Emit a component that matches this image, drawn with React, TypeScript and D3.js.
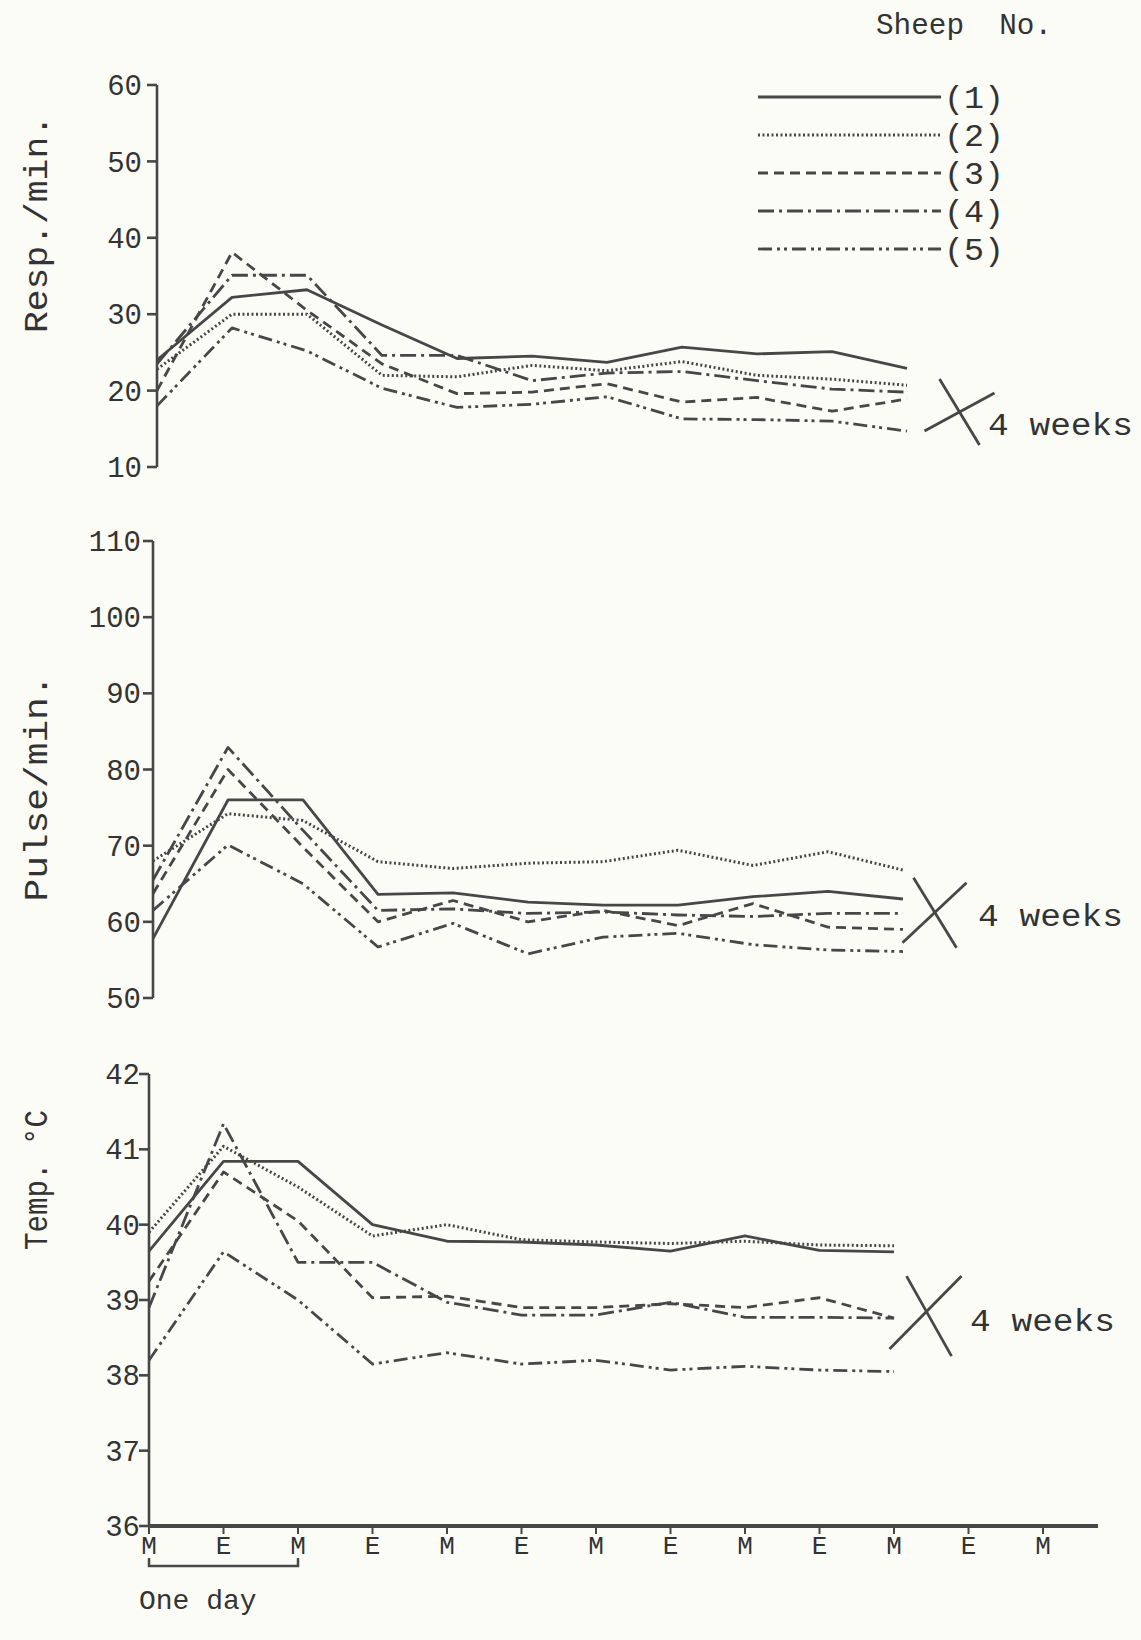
import React from "react";
import * as d3 from "d3";

// x axis slots (M = morning, E = evening)
const slots = ["M", "E", "M", "E", "M", "E", "M", "E", "M", "E", "M", "E", "M"];
const sheepNames = ["(1)", "(2)", "(3)", "(4)", "(5)"];

// respiration rate, resp./min
const resp1 = [24, 32.2, 33.2, 28.6, 24.2, 24.5, 23.7, 25.7, 24.8, 25.1, 22.9];
const resp2 = [22.8, 30, 30, 22, 21.8, 23.3, 22.6, 23.8, 22, 21.5, 20.7];
const resp3 = [20, 38.1, 30.5, 23.5, 19.6, 19.8, 20.9, 18.5, 19.1, 17.3, 18.9];
const resp4 = [23.5, 35.1, 35.1, 24.6, 24.6, 21.3, 22.3, 22.5, 21.3, 20.2, 19.8];
const resp5 = [18, 28.2, 25.2, 20.3, 17.8, 18.2, 19.2, 16.3, 16.2, 16, 14.7];

// pulse rate, pulse/min
const pulse1 = [57.8, 76, 76, 63.6, 63.8, 62.6, 62.2, 62.2, 63.3, 64, 63];
const pulse2 = [68, 74.2, 73.3, 67.9, 67, 67.7, 67.9, 69.4, 67.4, 69.2, 66.8];
const pulse3 = [63.7, 80, 69.8, 60, 62.8, 60, 61.5, 59.5, 62.4, 59.3, 59];
const pulse4 = [65.5, 82.9, 72, 61.5, 61.7, 61.1, 61.3, 60.9, 60.7, 61.1, 61.1];
const pulse5 = [61.5, 70.1, 65, 56.7, 59.8, 55.8, 58, 58.5, 57, 56.3, 56.1];

// rectal temperature, deg C
const temp1 = [39.65, 40.84, 40.84, 40.0, 39.78, 39.77, 39.73, 39.65, 39.85, 39.66, 39.64];
const temp2 = [39.9, 41.04, 40.5, 39.85, 40.0, 39.8, 39.77, 39.75, 39.78, 39.73, 39.72];
const temp3 = [39.25, 40.7, 40.05, 39.03, 39.05, 38.9, 38.9, 38.95, 38.9, 39.03, 38.76];
const temp4 = [38.9, 41.34, 39.5, 39.5, 38.97, 38.8, 38.8, 38.97, 38.77, 38.77, 38.76];
const temp5 = [38.2, 39.64, 39.0, 38.15, 38.3, 38.15, 38.2, 38.07, 38.12, 38.07, 38.05];

const respTicks = [10, 20, 30, 40, 50, 60];
const pulseTicks = [50, 60, 70, 80, 90, 100, 110];
const tempTicks = [36, 37, 38, 39, 40, 41, 42];

const ink = "#474747";
const textInk = "#333";
const font = "'Liberation Mono', 'DejaVu Sans Mono', monospace";
// one dash pattern per sheep
const dashes = ["none", "2 2.5", "10 6", "16 5 3 5", "14 5 3 4 3 5"];

const panels = [
  { title: "Resp./min.", titleY: 224, titleLen: 218, ticks: respTicks, series: [resp1, resp2, resp3, resp4, resp5],
    axisX: 157, step: 75, top: 85, bottom: 467, labelGap: 15, mark: { i: 10.7, v: 17.2 }, cross: [[-20, -33, 20, 33], [-35, 19, 35, -19]], weeksX: 988, weeksDy: 12 },
  { title: "Pulse/min.", titleY: 788, titleLen: 227, ticks: pulseTicks, series: [pulse1, pulse2, pulse3, pulse4, pulse5],
    axisX: 153, step: 75, top: 541, bottom: 998, labelGap: 12, mark: { i: 10.42, v: 61.2 }, cross: [[-21, -35, 22, 35], [-32, 30, 32, -30]], weeksX: 978, weeksDy: 2 },
  { title: "Temp. °C", titleY: 1180, titleLen: 140, ticks: tempTicks, series: [temp1, temp2, temp3, temp4, temp5],
    axisX: 149, step: 74.5, top: 1074, bottom: 1526, labelGap: 9, mark: { i: 10.45, v: 38.8 }, cross: [[-21, -39, 24, 41], [-38, 34, 34, -39]], weeksX: 970, weeksDy: 5 },
];

function Panel({ p }: { p: any }) {
  const y = d3.scaleLinear().domain([p.ticks[0], p.ticks[p.ticks.length - 1]]).range([p.bottom, p.top]);
  const x = d3.scaleLinear().domain([0, 1]).range([p.axisX, p.axisX + p.step]);
  const line = d3.line<number>().x((d, i) => x(i)).y(d => y(d));
  const cx = x(p.mark.i), cy = y(p.mark.v);
  return (
    <g>
      <text transform={`translate(47,${p.titleY}) rotate(-90)`} textAnchor="middle" fontSize={33} fill={textInk}
        textLength={p.titleLen} lengthAdjust="spacingAndGlyphs">{p.title}</text>
      <line x1={p.axisX} x2={p.axisX} y1={p.top} y2={p.bottom} stroke={ink} strokeWidth={2.6} />
      {p.ticks.map((t: number) => (
        <g key={t}>
          <line x1={p.axisX - 10} x2={p.axisX} y1={y(t)} y2={y(t)} stroke={ink} strokeWidth={2.6} />
          <text x={p.axisX - p.labelGap} y={y(t)} dy="0.35em" textAnchor="end" fontSize={29} fill={textInk}>{t}</text>
        </g>
      ))}
      {p.series.map((s: number[], k: number) => (
        <path key={k} d={line(s) || ""} fill="none" stroke={ink} strokeWidth={k === 1 ? 3 : 2.8}
          strokeDasharray={dashes[k]} strokeLinejoin="round" />
      ))}
      {p.cross.map((c: number[], k: number) => (
        <line key={k} x1={cx + c[0]} y1={cy + c[1]} x2={cx + c[2]} y2={cy + c[3]} stroke={ink} strokeWidth={2.8} />
      ))}
      <text x={p.weeksX} y={cy + p.weeksDy} dy="0.35em" fontSize={31} fill={textInk}
        textLength={145} lengthAdjust="spacingAndGlyphs">4 weeks</text>
    </g>
  );
}

export default function App() {
  const bottom = panels[2];
  const xb = d3.scaleLinear().domain([0, 1]).range([bottom.axisX, bottom.axisX + bottom.step]);
  const legendY = d3.scalePoint<string>().domain(sheepNames).range([97, 249]);
  return (
    <svg width={1141} height={1640} style={{ position: "absolute", left: 0, top: 0, display: "block" }}
      fontFamily={font}>
      <rect width={1141} height={1640} fill="#fcfcf7" />

      {/* legend */}
      <text x={876} y={34} fontSize={29} fill={textInk} xmlSpace="preserve"
        textLength={176} lengthAdjust="spacingAndGlyphs">Sheep  No.</text>
      {sheepNames.map((n, k) => (
        <g key={n}>
          <line x1={758} x2={941} y1={legendY(n)} y2={legendY(n)} stroke={ink} strokeWidth={k === 1 ? 3 : 2.8}
            strokeDasharray={dashes[k]} />
          <text x={944} y={legendY(n)} dy="0.35em" fontSize={32} fill={textInk}
            textLength={60} lengthAdjust="spacingAndGlyphs">{n}</text>
        </g>
      ))}

      {panels.map(p => <Panel key={p.title} p={p} />)}

      {/* bottom x axis */}
      <line x1={bottom.axisX} x2={1098} y1={bottom.bottom} y2={bottom.bottom} stroke={ink} strokeWidth={4} />
      {slots.map((s, i) => (
        <g key={i}>
          <line x1={xb(i)} x2={xb(i)} y1={bottom.bottom} y2={bottom.bottom + 8} stroke={ink} strokeWidth={2} />
          <text x={xb(i)} y={bottom.bottom + 28} textAnchor="middle" fontSize={26} fill={textInk}>{s}</text>
        </g>
      ))}

      {/* one day bracket */}
      <path d={`M${xb(0)},${1558}V${1566}H${xb(2)}V${1558}`} fill="none" stroke={ink} strokeWidth={2.5} />
      <text x={139} y={1609} fontSize={28} fill={textInk}>One day</text>
    </svg>
  );
}
